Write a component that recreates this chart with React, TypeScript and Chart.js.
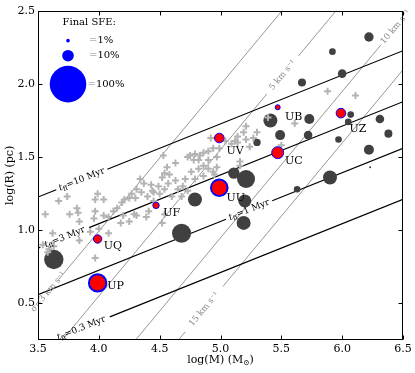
import { useEffect, useRef } from 'react';
import { Chart, registerables } from 'chart.js';

Chart.register(...registerables);

// ---------- axes ----------
const xTicks = [3.5, 4.0, 4.5, 5.0, 5.5, 6.0, 6.5];
const yTicks = [0.5, 1.0, 1.5, 2.0, 2.5];
const xRange = [3.5, 6.5];
const yRange = [0.25, 2.5];

// ---------- observed clouds (light grey crosses) ----------
const cloudLogM = [
  5.88, 6.11, 5.39, 5.61, 5.50, 5.21, 5.30, 5.19, 5.14, 5.27, 5.12, 5.14, 5.21, 5.09, 5.24, 5.16, 5.16, 5.04,
  4.92, 4.99, 4.94, 4.90, 4.86, 4.97, 4.90, 4.83, 4.82, 4.86, 4.90, 4.94, 4.97, 4.82, 4.86, 4.95, 4.79, 4.79,
  4.75, 4.78, 4.73, 4.53, 4.63, 4.56, 4.76, 4.54, 4.58, 4.52, 4.63, 4.57, 4.71, 4.65, 4.69, 4.73, 4.54, 4.49,
  4.60, 4.68, 4.50, 4.54, 4.52, 4.43, 4.45, 4.34, 4.37, 4.31, 4.35, 4.40, 4.44, 4.30, 4.27, 4.25, 4.21, 4.19,
  4.45, 4.15, 4.39, 4.31, 4.20, 4.25, 4.29, 4.41, 4.18, 3.99, 4.04, 3.97, 3.74, 3.67, 3.82, 3.76, 3.83, 3.56,
  3.84, 3.97, 3.96, 4.04, 4.08, 4.12, 4.08, 3.93, 4.00, 3.84, 3.97, 3.62, 3.54, 3.59, 3.63, 3.58,
];
const cloudLogR = [
  1.95, 1.92, 1.77, 1.73, 1.58, 1.71, 1.67, 1.67, 1.64, 1.63, 1.61, 1.60, 1.62, 1.59, 1.57, 1.47, 1.44, 1.61,
  1.63, 1.56, 1.56, 1.54, 1.53, 1.50, 1.48, 1.51, 1.48, 1.44, 1.42, 1.40, 1.43, 1.42, 1.37, 1.38, 1.52, 1.35,
  1.51, 1.48, 1.50, 1.51, 1.46, 1.43, 1.40, 1.39, 1.38, 1.36, 1.34, 1.32, 1.35, 1.28, 1.30, 1.27, 1.28, 1.30,
  1.23, 1.23, 1.25, 1.11, 1.05, 1.31, 1.26, 1.35, 1.32, 1.28, 1.26, 1.23, 1.27, 1.22, 1.25, 1.22, 1.21, 1.19,
  1.20, 1.15, 1.09, 1.10, 1.10, 1.06, 1.11, 1.13, 1.05, 1.25, 1.21, 1.21, 1.23, 1.20, 1.15, 1.11, 1.12, 1.11,
  1.06, 1.13, 1.08, 1.10, 1.09, 1.13, 0.98, 0.99, 1.01, 0.93, 0.81, 0.98, 0.90, 0.87, 0.89, 0.85,
];

// ---------- simulations (dark grey circles), final SFE in % ----------
const simLogM = [6.22, 5.92, 6.00, 5.67, 5.41, 5.73, 6.07, 6.05, 6.31, 6.38, 5.49, 5.72, 5.30, 5.97, 6.22, 6.23, 5.90, 5.63, 5.11, 5.21, 4.79, 5.20, 5.19, 4.68, 3.63];
const simLogR = [2.32, 2.22, 2.07, 2.01, 1.75, 1.76, 1.79, 1.74, 1.76, 1.66, 1.65, 1.65, 1.60, 1.62, 1.55, 1.43, 1.36, 1.28, 1.39, 1.35, 1.21, 1.20, 1.05, 0.98, 0.80];
const simSfe = [6.6, 3.3, 5.5, 4.8, 14.6, 7.5, 3.3, 3.3, 5.5, 4.8, 7.5, 5.5, 4.1, 3.3, 7.5, 0.3, 14.6, 3.3, 9.7, 24, 14.6, 12.6, 14.6, 27, 28];

// ---------- named runs (red circles) ----------
const runNames = ['UB', 'UZ', 'UV', 'UC', 'UU', 'UF', 'UQ', 'UP'];
const runLogM = [5.47, 5.99, 4.99, 5.47, 4.99, 4.47, 3.99, 3.99];
const runLogR = [1.84, 1.80, 1.63, 1.53, 1.29, 1.17, 0.94, 0.64];
const runSfe = [2.7, 8.4, 8.4, 12.6, 25.8, 4.1, 6.6, 28];
const runLabelLogM = [5.53, 6.06, 5.05, 5.53, 5.05, 4.53, 4.04, 4.07];
const runLabelLogR = [1.77, 1.69, 1.54, 1.47, 1.22, 1.12, 0.89, 0.62];

// ---------- reference lines ----------
const tffMyr = [10, 3, 1, 0.3];
const tffLabelLogM = [3.86, 3.72, 5.235, 3.855];
const tffGapHalf = [0.21, 0.2, 0.19, 0.235];
const tffIntercept10 = 0.06;

const velKms = [3, 5, 10, 15];
const velLabelLogM = [3.585, 5.51, 6.44, 4.865];
const velGapHalf = [0.085, 0.13, 0.12, 0.155];
const velIntercept5 = -3.45;

const legendSfe = [1, 10, 100];

// ---------- helpers ----------
const SERIF = '"DejaVu Serif", "Liberation Serif", serif';
const sfeRadius = (s: number) => 1.83 * Math.sqrt(s);
const tffLine = (t: number) => (m: number) => m / 3 + tffIntercept10 + (2 / 3) * Math.log10(t / 10);
const velLine = (v: number) => (m: number) => m + velIntercept5 - 2 * Math.log10(v / 5);

function gappedLine(f: (m: number) => number, center: number, half: number) {
  const s = xRange[0], e = xRange[1];
  const g1 = Math.max(s, center - half);
  const g2 = Math.min(e, center + half);
  const pts: { x: number; y: number | null }[] = [];
  if (g1 > s) { pts.push({ x: s, y: f(s) }, { x: g1, y: f(g1) }); }
  pts.push({ x: center, y: null });
  if (g2 < e) { pts.push({ x: g2, y: f(g2) }, { x: e, y: f(e) }); }
  return pts;
}

function lineAngle(chart: any, f: (m: number) => number, m: number) {
  const xs = chart.scales.x, ys = chart.scales.y;
  const x1 = xs.getPixelForValue(m), y1 = ys.getPixelForValue(f(m));
  const x2 = xs.getPixelForValue(m + 0.1), y2 = ys.getPixelForValue(f(m + 0.1));
  return Math.atan2(y2 - y1, x2 - x1);
}

const overlay = {
  id: 'overlay',
  afterDatasetsDraw(chart: any) {
    const { ctx, chartArea: a, scales } = chart;
    const xs = scales.x, ys = scales.y;
    ctx.save();

    // t_ff labels
    tffMyr.forEach((t, i) => {
      const f = tffLine(t);
      const m = tffLabelLogM[i];
      const cx = xs.getPixelForValue(m), cy = ys.getPixelForValue(f(m));
      const ang = lineAngle(chart, f, m);
      ctx.save();
      ctx.translate(cx, cy);
      ctx.rotate(ang);
      ctx.fillStyle = '#000';
      ctx.textBaseline = 'middle';
      ctx.textAlign = 'left';
      const main = `9px ${SERIF}`, sub = `6.5px ${SERIF}`;
      const tail = `=${t} Myr`;
      ctx.font = `italic ${main}`; const w1 = ctx.measureText('t').width;
      ctx.font = sub; const w2 = ctx.measureText('ff').width;
      ctx.font = main; const w3 = ctx.measureText(tail).width;
      let x = -(w1 + w2 + w3) / 2;
      ctx.font = `italic ${main}`; ctx.fillText('t', x, 0); x += w1;
      ctx.font = sub; ctx.fillText('ff', x, 2.5); x += w2;
      ctx.font = main; ctx.fillText(tail, x, 0);
      ctx.restore();
    });

    // velocity labels
    velKms.forEach((v, i) => {
      const f = velLine(v);
      const m = velLabelLogM[i];
      const cx = xs.getPixelForValue(m), cy = ys.getPixelForValue(f(m));
      const ang = lineAngle(chart, f, m);
      ctx.save();
      ctx.translate(cx, cy);
      ctx.rotate(ang);
      ctx.fillStyle = '#8a8a8a';
      ctx.font = `8.5px ${SERIF}`;
      ctx.textAlign = 'center';
      ctx.textBaseline = 'middle';
      ctx.fillText(i === 0 ? `σ=${v} km s⁻¹` : `${v} km s⁻¹`, 0, 0);
      ctx.restore();
    });

    // run labels
    ctx.fillStyle = '#000';
    ctx.font = `11px ${SERIF}`;
    ctx.textAlign = 'left';
    ctx.textBaseline = 'middle';
    runNames.forEach((n, i) => {
      ctx.fillText(n, xs.getPixelForValue(runLabelLogM[i]), ys.getPixelForValue(runLabelLogR[i]));
    });

    // legend
    const lx = a.left + 30;
    ctx.font = `10px ${SERIF}`;
    ctx.fillStyle = '#000';
    ctx.textAlign = 'left';
    ctx.fillText('Final SFE:', a.left + 24.5, a.top + 12);
    const legY = [a.top + 30, a.top + 45, a.top + 73.4];
    legendSfe.forEach((s, i) => {
      ctx.beginPath();
      ctx.arc(lx, legY[i], sfeRadius(s), 0, Math.PI * 2);
      ctx.fillStyle = '#0000ff';
      ctx.fill();
      ctx.font = `10px ${SERIF}`;
      ctx.fillStyle = '#888';
      const tx = i === 2 ? a.left + 49.5 : a.left + 51;
      ctx.fillText('=', tx, legY[i]);
      const we = ctx.measureText('=').width;
      ctx.fillStyle = '#000';
      ctx.fillText(`${s}%`, tx + we, legY[i]);
    });

    // frame and inward ticks
    ctx.strokeStyle = '#000';
    ctx.lineWidth = 1;
    const L = Math.round(a.left) + 0.5, R = Math.round(a.right) - 0.5;
    const T = Math.round(a.top) + 0.5, B = Math.round(a.bottom) - 0.5;
    ctx.strokeRect(L, T, R - L, B - T);
    ctx.beginPath();
    xTicks.forEach((v) => {
      const px = Math.round(xs.getPixelForValue(v)) + 0.5;
      ctx.moveTo(px, B); ctx.lineTo(px, B - 4);
      ctx.moveTo(px, T); ctx.lineTo(px, T + 4);
    });
    yTicks.forEach((v) => {
      const py = Math.round(ys.getPixelForValue(v)) + 0.5;
      ctx.moveTo(L, py); ctx.lineTo(L + 4, py);
      ctx.moveTo(R, py); ctx.lineTo(R - 4, py);
    });
    ctx.stroke();

    // axis titles
    ctx.fillStyle = '#000';
    ctx.textBaseline = 'middle';
    const big = `11px ${SERIF}`, small = `7.5px ${SERIF}`;
    ctx.font = big; const p1 = 'log(M) (M'; const w1 = ctx.measureText(p1).width;
    ctx.font = small; const w2 = ctx.measureText('⊙').width;
    ctx.font = big; const w3 = ctx.measureText(')').width;
    let x0 = (a.left + a.right) / 2 - (w1 + w2 + w3) / 2;
    const ty = a.bottom + 20;
    ctx.textAlign = 'left';
    ctx.font = big; ctx.fillText(p1, x0, ty); x0 += w1;
    ctx.font = small; ctx.fillText('⊙', x0, ty + 3); x0 += w2;
    ctx.font = big; ctx.fillText(')', x0, ty);

    ctx.save();
    ctx.translate(a.left - 28, (a.top + a.bottom) / 2);
    ctx.rotate(-Math.PI / 2);
    ctx.textAlign = 'center';
    ctx.font = big;
    ctx.fillText('log(R) (pc)', 0, 0);
    ctx.restore();

    ctx.restore();
  },
};

export default function App() {
  const ref = useRef<HTMLCanvasElement>(null);

  useEffect(() => {
    if (!ref.current) return;

    const lineSets: any[] = [];
    tffMyr.forEach((t, i) => {
      lineSets.push({
        type: 'line',
        data: gappedLine(tffLine(t), tffLabelLogM[i], tffGapHalf[i]),
        borderColor: '#000',
        borderWidth: 1.2,
        pointRadius: 0,
        spanGaps: false,
        order: 3,
      });
    });
    velKms.forEach((v, i) => {
      lineSets.push({
        type: 'line',
        data: gappedLine(velLine(v), velLabelLogM[i], velGapHalf[i]),
        borderColor: '#8a8a8a',
        borderWidth: 0.9,
        pointRadius: 0,
        spanGaps: false,
        order: 3,
      });
    });

    const runBorder = runSfe.map((s) => (sfeRadius(s) > 8 ? 2 : 1));

    const chart = new Chart(ref.current, {
      type: 'scatter',
      data: {
        datasets: [
          {
            data: runLogM.map((m, i) => ({ x: m, y: runLogR[i] })),
            backgroundColor: '#ff0000',
            borderColor: '#0000ff',
            borderWidth: runBorder,
            pointRadius: runSfe.map((s, i) => sfeRadius(s) - runBorder[i] / 2),
            order: 0,
          },
          {
            data: cloudLogM.map((m, i) => ({ x: m, y: cloudLogR[i] })),
            pointStyle: 'cross',
            borderColor: '#b3b3b3',
            borderWidth: 2,
            pointRadius: 3.5,
            order: 1,
          },
          {
            data: simLogM.map((m, i) => ({ x: m, y: simLogR[i] })),
            backgroundColor: '#404040',
            borderColor: '#404040',
            borderWidth: 0,
            pointRadius: simSfe.map((s) => sfeRadius(s)),
            order: 2,
          },
          ...lineSets,
        ],
      } as any,
      options: {
        animation: false,
        responsive: false,
        devicePixelRatio: 1,
        events: [],
        layout: { padding: { left: 0, right: 12, top: 9, bottom: 0 } },
        plugins: { legend: { display: false }, tooltip: { enabled: false } },
        scales: {
          x: {
            type: 'linear',
            min: xRange[0],
            max: xRange[1],
            grid: { display: false, drawTicks: false },
            border: { display: false },
            afterBuildTicks: (s: any) => { s.ticks = xTicks.map((v) => ({ value: v })); },
            afterFit: (s: any) => { s.height = 33; },
            ticks: {
              autoSkip: false,
              maxRotation: 0,
              padding: 3,
              color: '#000',
              font: { family: SERIF, size: 11 },
              callback: (v: any) => Number(v).toFixed(1),
            },
          },
          y: {
            type: 'linear',
            min: yRange[0],
            max: yRange[1],
            grid: { display: false, drawTicks: false },
            border: { display: false },
            afterBuildTicks: (s: any) => { s.ticks = yTicks.map((v) => ({ value: v })); },
            afterFit: (s: any) => { s.width = 38; },
            ticks: {
              autoSkip: false,
              padding: 3,
              color: '#000',
              font: { family: SERIF, size: 11 },
              callback: (v: any) => Number(v).toFixed(1),
            },
          },
        },
      } as any,
      plugins: [overlay],
    });

    return () => chart.destroy();
  }, []);

  return (
    <div style={{ position: 'absolute', left: 0, top: 0, width: 415, height: 373, background: '#fff' }}>
      <canvas ref={ref} width={415} height={373} style={{ display: 'block' }} />
    </div>
  );
}
